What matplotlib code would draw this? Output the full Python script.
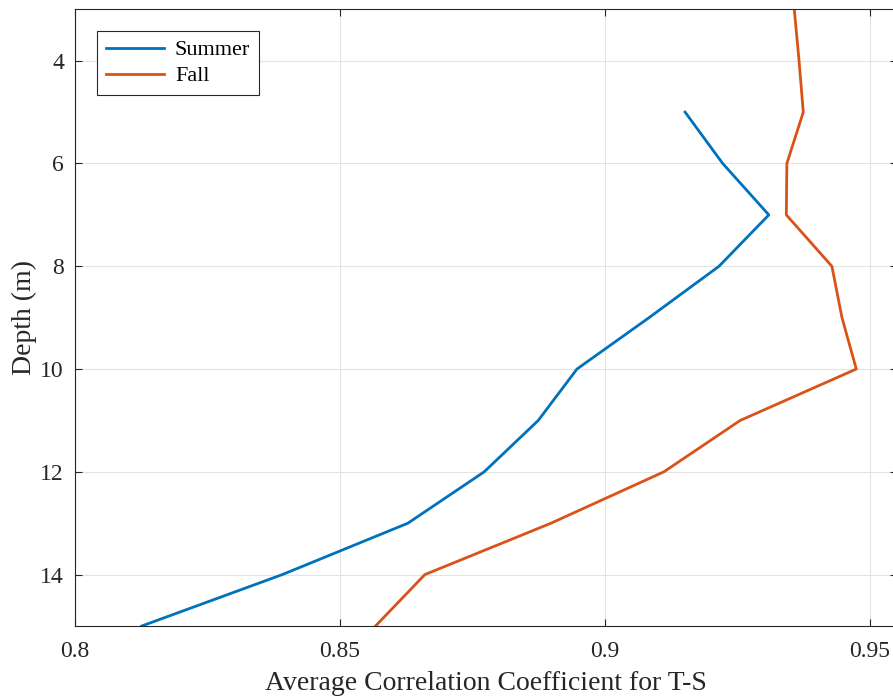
import matplotlib
matplotlib.use('Agg')
import matplotlib.pyplot as plt

# depth (m) and average T-S correlation
summer_depth = [5, 6, 7, 8, 9, 10, 11, 12, 13, 14, 15]
summer_corr = [0.9151, 0.9222, 0.9309, 0.9215, 0.9083, 0.8947, 0.8874, 0.8772, 0.8628, 0.8391, 0.8126]
fall_depth = [3, 4, 5, 6, 7, 8, 9, 10, 11, 12, 13, 14, 15]
fall_corr = [0.9357, 0.9366, 0.9374, 0.9343, 0.9342, 0.9428, 0.9447, 0.9474, 0.9255, 0.9111, 0.8898, 0.8660, 0.8567]

plt.rcParams['font.family'] = ['Liberation Serif', 'DejaVu Serif']

fig = plt.figure(figsize=(8.93, 6.96), dpi=100)
ax = fig.add_axes([0.084, 0.1006, 0.92, 0.886])

ax.plot(summer_corr, summer_depth, color='#0072BD', lw=2, label='Summer')
ax.plot(fall_corr, fall_depth, color='#D95319', lw=2, label='Fall')

ax.set_xlim(0.8, 0.955)
ax.set_ylim(15, 3)
ax.set_xticks([0.8, 0.85, 0.9, 0.95])
ax.set_xticklabels(['0.8', '0.85', '0.9', '0.95'])
ax.set_yticks([4, 6, 8, 10, 12, 14])
ax.grid(True, color='#e3e3e3', lw=0.8)
ax.set_axisbelow(True)
for s in ax.spines.values():
    s.set_color('#262626')
    s.set_linewidth(0.8)
ax.tick_params(axis='both', direction='in', top=True, right=True, labelsize=17,
               colors='#262626', length=5)
ax.tick_params(axis='x', pad=11)
ax.tick_params(axis='y', pad=8)
ax.set_xlabel('Average Correlation Coefficient for T-S', fontsize=20, color='#262626', labelpad=6)
ax.set_ylabel('Depth (m)', fontsize=20, color='#262626', labelpad=2)

leg = ax.legend(loc='upper left', fontsize=16, fancybox=False, framealpha=1,
                edgecolor='#262626', handlelength=2.6, borderpad=0.4,
                labelspacing=0.25, handletextpad=0.5, borderaxespad=0,
                bbox_to_anchor=(0.027, 0.965))
leg.get_frame().set_linewidth(0.8)

fig.savefig('out.png', dpi=100)
